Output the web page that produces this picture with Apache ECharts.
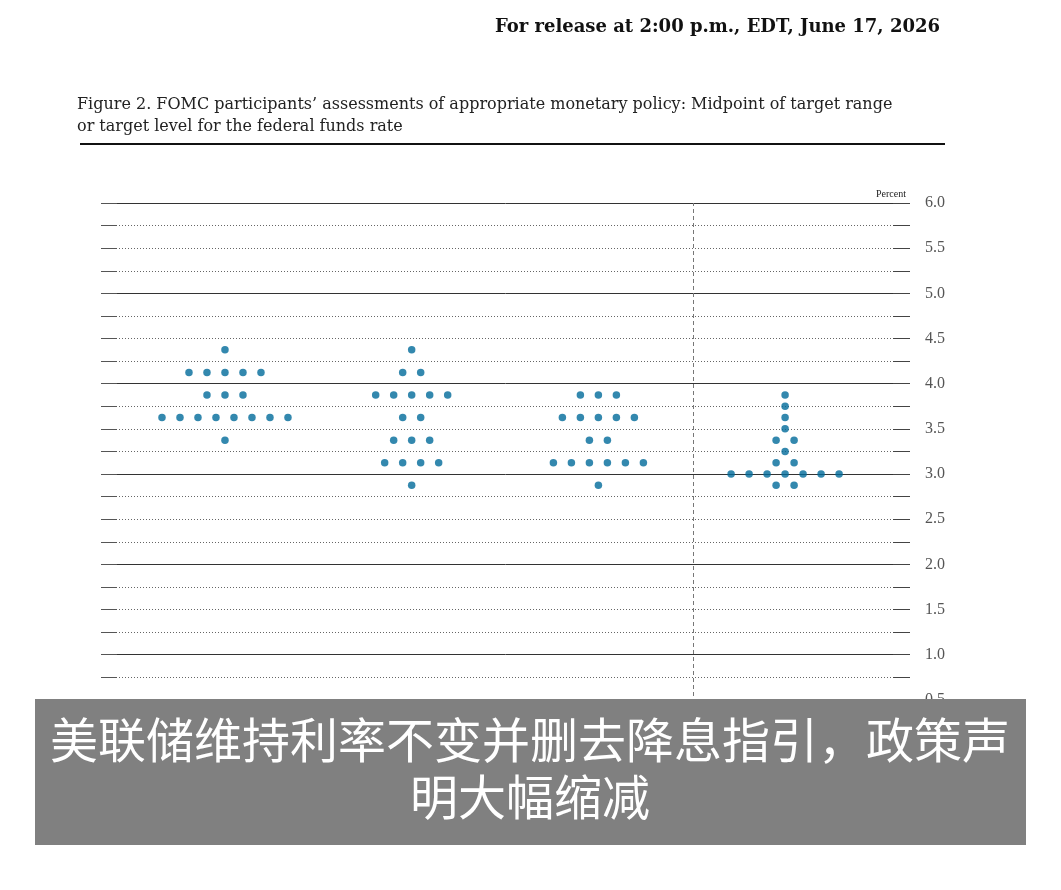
<!DOCTYPE html>
<html>
<head>
<meta charset="utf-8">
<script src="https://cdn.jsdelivr.net/npm/echarts@6/dist/echarts.min.js"></script>
<style>
html,body{margin:0;padding:0;background:#fff;}
#main{width:1061px;height:890px;}
</style>
</head>
<body>
<div id="main"></div>
<script>
var years=['2026','2027','2028','Longer run'];
// midpoints and how many participants sit on each one
var rates2026=[4.375,4.125,3.875,3.625,3.375];
var counts2026=[1,5,3,8,1];
var rates2027=[4.375,4.125,3.875,3.625,3.375,3.125,2.875];
var counts2027=[1,2,5,2,3,4,1];
var rates2028=[3.875,3.625,3.375,3.125,2.875];
var counts2028=[3,5,2,6,1];
var ratesLR=[3.875,3.75,3.625,3.5,3.375,3.25,3.125,3.0,2.875];
var countsLR=[1,1,1,1,2,1,2,7,2];
var yTicks=[0,0.5,1,1.5,2,2.5,3,3.5,4,4.5,5,5.5,6];

var titleText='For release at 2:00 p.m., EDT, June 17, 2026';
var captionLine1='Figure 2. FOMC participants\u2019 assessments of appropriate monetary policy: Midpoint of target range';
var captionLine2='or target level for the federal funds rate';
var bannerLine1='美联储维持利率不变并删去降息指引，政策声';
var bannerLine2='明大幅缩减';

var step=0.0964; // spacing of dots on a row, in x units

function buildDots(center,rates,counts){
	var out=[];
	for(var i=0;i<rates.length;i++){
		var n=counts[i];
		for(var j=0;j<n;j++){
			out.push([center+(j-(n-1)/2)*step,rates[i]]);
		}
	}
	return out;
}

var allRates=[rates2026,rates2027,rates2028,ratesLR];
var allCounts=[counts2026,counts2027,counts2028,countsLR];
var series=[];
for(var k=0;k<years.length;k++){
	series.push({
		name:years[k],
		type:'scatter',
		symbol:'circle',
		symbolSize:7.5,
		xAxisIndex:0,
		yAxisIndex:0,
		itemStyle:{color:'#006a9a'},
		data:buildDots(k+1,allRates[k],allCounts[k]),
		z:5
	});
}
// dashed separator before the longer run column
series[3].markLine={
	silent:true,
	symbol:'none',
	label:{show:false},
	lineStyle:{color:'#777',type:[4,3],width:1},
	data:[{xAxis:3.507}]
};

var myChart=echarts.init(document.getElementById('main'));
var option={
	backgroundColor:'#fff',
	animation:false,
	grid:{left:101,right:151,top:203,bottom:145},
	xAxis:[{
		type:'value',
		min:0.336,
		max:4.669,
		show:false
	}],
	yAxis:[
		{
			type:'value',
			position:'left',
			min:0,max:6,interval:0.25,
			axisLine:{show:false},
			axisLabel:{show:false},
			axisTick:{show:true,inside:true,length:16,lineStyle:{color:'#555'}},
			splitLine:{show:true,lineStyle:{color:'#666',type:[1,2],width:1}}
		},
		{
			type:'value',
			position:'right',
			min:0,max:6,interval:0.25,
			axisLine:{show:false},
			axisTick:{show:true,inside:true,length:17,lineStyle:{color:'#444'}},
			splitLine:{show:false},
			axisLabel:{
				margin:15,
				color:'#555',
				fontFamily:'Liberation Serif',
				fontSize:16,
				formatter:function(v){
					for(var i=0;i<yTicks.length;i++){
						if(Math.abs(yTicks[i]-v)<1e-6) return v.toFixed(1);
					}
					return '';
				}
			}
		},
		{
			type:'value',
			position:'left',
			min:0,max:6,interval:1,
			axisLine:{show:false},
			axisLabel:{show:false},
			axisTick:{show:false},
			splitLine:{show:true,lineStyle:{color:'#333',type:'solid',width:1}}
		}
	],
	graphic:[
		{
			type:'text',
			right:121,
			top:18,
			style:{
				text:titleText,
				fill:'#111',
				font:'bold 18px "DejaVu Serif"'
			}
		},
		{
			type:'text',
			left:77,
			top:97,
			style:{
				text:captionLine1,
				fill:'#222',
				font:'16px "DejaVu Serif"'
			}
		},
		{
			type:'text',
			left:77,
			top:119,
			style:{
				text:captionLine2,
				fill:'#222',
				font:'16px "DejaVu Serif"'
			}
		},
		{
			type:'line',
			shape:{x1:80,y1:144,x2:945,y2:144},
			style:{stroke:'#111',lineWidth:2}
		},
		{
			type:'text',
			right:155,
			top:189,
			style:{
				text:'Percent',
				fill:'#222',
				font:'10px "Liberation Serif"'
			}
		},
		{
			type:'rect',
			z:100,
			shape:{x:35,y:699,width:991,height:146},
			style:{fill:'#808080'}
		},
		{
			type:'text',
			z:101,
			x:530,
			y:740,
			style:{
				text:bannerLine1,
				fill:'#fff',
				font:'48px "Noto Sans CJK SC"',
				textAlign:'center',
				textVerticalAlign:'middle'
			}
		},
		{
			type:'text',
			z:101,
			x:530,
			y:797,
			style:{
				text:bannerLine2,
				fill:'#fff',
				font:'48px "Noto Sans CJK SC"',
				textAlign:'center',
				textVerticalAlign:'middle'
			}
		}
	],
	series:series
};
myChart.setOption(option);
</script>
</body>
</html>
